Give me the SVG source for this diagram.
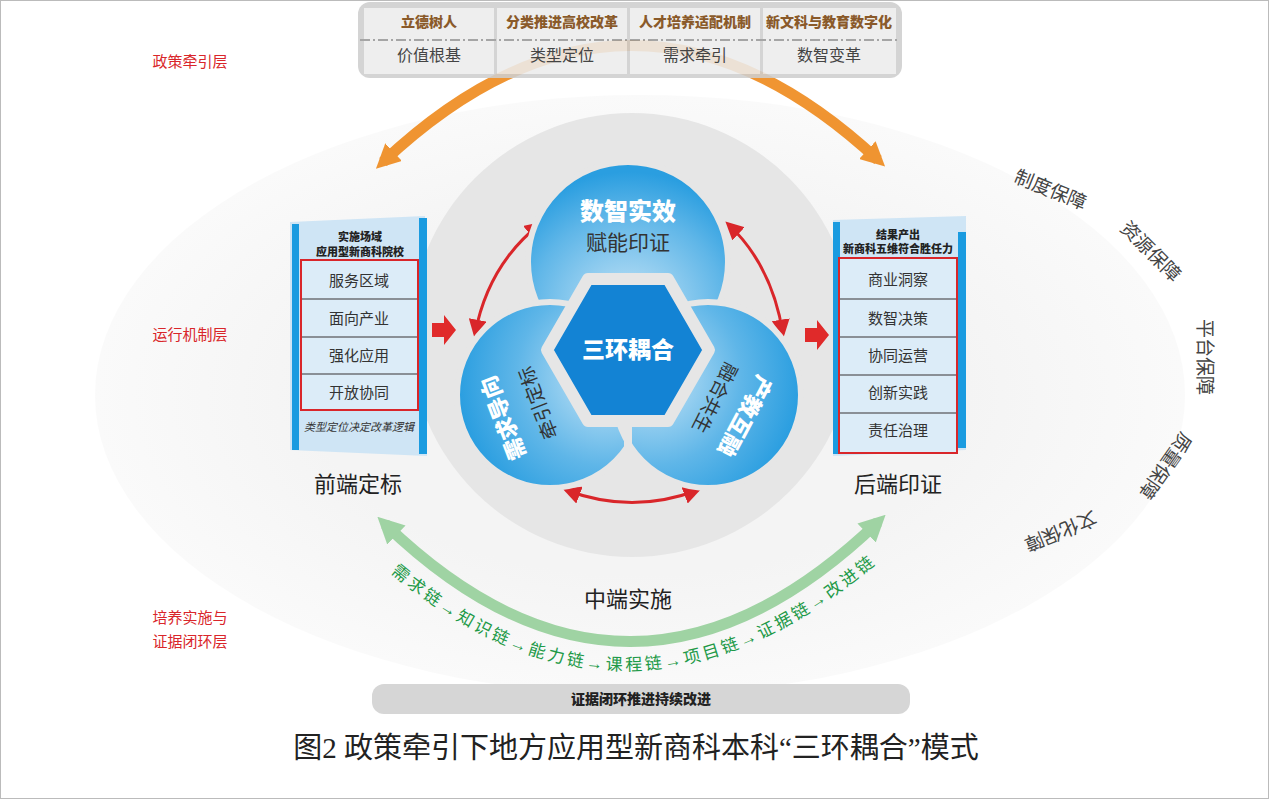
<svg xmlns="http://www.w3.org/2000/svg" width="1269" height="799" viewBox="0 0 1269 799">
<defs>
<style>
.s{font-family:"Liberation Serif","Noto Sans CJK SC",serif}
.b{font-family:"Noto Sans CJK SC",sans-serif;font-weight:900}
.lay{font-family:"Liberation Serif","Noto Sans CJK SC",serif;font-size:15px;fill:#d9262a;text-anchor:middle}
.hd{font-size:14px;fill:#8a5a2a;text-anchor:middle}
.cell{font-size:16px;fill:#444;text-anchor:middle}
.row{font-size:15px;fill:#333;text-anchor:middle}
.guar{font-size:19px;fill:#444;text-anchor:middle}
</style>
<radialGradient id="bg" cx="0.5" cy="0.5" r="0.5"><stop offset="0.6" stop-color="#f4f4f4"/><stop offset="1" stop-color="#fafafa"/></radialGradient>
<radialGradient id="blob" cx="0.5" cy="0.75" r="0.7"><stop offset="0" stop-color="#c9e6f7"/><stop offset="0.7" stop-color="#5fb6e8"/><stop offset="1" stop-color="#2a9ee0"/></radialGradient>
<radialGradient id="blobL" cx="0.8" cy="0.4" r="0.8"><stop offset="0" stop-color="#c9e6f7"/><stop offset="0.6" stop-color="#5fb6e8"/><stop offset="1" stop-color="#2a9ee0"/></radialGradient>
<radialGradient id="blobR" cx="0.2" cy="0.4" r="0.8"><stop offset="0" stop-color="#c9e6f7"/><stop offset="0.6" stop-color="#5fb6e8"/><stop offset="1" stop-color="#2a9ee0"/></radialGradient>
<linearGradient id="red" x1="0" x2="1"><stop offset="0" stop-color="#d94a4a" stop-opacity="0.1"/><stop offset="1" stop-color="#d94a4a"/></linearGradient>
<marker id="ra" viewBox="0 0 10 10" refX="8" refY="5" markerWidth="6" markerHeight="6" orient="auto-start-reverse"><path d="M0,0L10,5L0,10z" fill="#d9262a"/></marker>
<marker id="oa" viewBox="0 0 10 10" refX="6" refY="5" markerWidth="2.2" markerHeight="2.2" orient="auto-start-reverse"><path d="M0,0L10,5L0,10z" fill="#ef8a1c"/></marker>
<marker id="ga" viewBox="0 0 10 10" refX="6" refY="5" markerWidth="2.4" markerHeight="2.4" orient="auto-start-reverse"><path d="M0,0L10,5L0,10z" fill="#9fd3a3"/></marker>
<path id="chain" d="M372,556 Q628,790 896,546"/>
</defs>
<rect x="0.5" y="0.5" width="1268" height="798" fill="#fff" stroke="#bbb"/>
<ellipse cx="640" cy="395" rx="545" ry="300" fill="url(#bg)"/>
<circle cx="632" cy="335" r="222" fill="#e6e6e6"/>

<g id="layers">
<line x1="0" y1="126" x2="972" y2="126" stroke="url(#red)" stroke-width="3" stroke-dasharray="18,5,3,5"/>
<line x1="0" y1="545" x2="975" y2="545" stroke="url(#red)" stroke-width="3" stroke-dasharray="18,5,3,5"/>
<text class="lay" x="190" y="67">政策牵引层</text>
<text class="lay" x="190" y="340">运行机制层</text>
<text class="lay" x="190" y="623">培养实施与</text>
<text class="lay" x="190" y="647">证据闭环层</text>
</g>

<g id="connectors" fill="none">
<path d="M383,162 Q630,-70 878,160" stroke="#ef8a1c" stroke-width="11" marker-start="url(#oa)" marker-end="url(#oa)" opacity="0.9"/>
<path d="M385,524 Q630,760 878,522" stroke="#9fd3a3" stroke-width="11" marker-start="url(#ga)" marker-end="url(#ga)"/>
<path d="M540,224 Q488,265 475,334" stroke="#d9262a" stroke-width="3" marker-start="url(#ra)" marker-end="url(#ra)"/>
<path d="M728,224 Q772,265 783,334" stroke="#d9262a" stroke-width="3" marker-start="url(#ra)" marker-end="url(#ra)"/>
<path d="M566,490 Q632,515 698,490" stroke="#d9262a" stroke-width="3" marker-start="url(#ra)" marker-end="url(#ra)"/>
<path d="M432,323h12v-8l12,15l-12,15v-8h-12z" fill="#e02a2a"/>
<path d="M805,328h12v-8l12,15l-12,15v-8h-12z" fill="#e02a2a"/>
</g>

<g id="policy" opacity="0.88">
<rect x="358" y="2" width="544" height="76" rx="12" fill="#cfcfcf"/>
<rect x="364" y="8" width="130" height="66" fill="#ececec"/>
<rect x="497" y="8" width="130" height="66" fill="#ececec"/>
<rect x="630" y="8" width="130" height="66" fill="#ececec"/>
<rect x="763" y="8" width="133" height="66" fill="#ececec"/>
<line x1="360" y1="40" x2="900" y2="40" stroke="#999" stroke-width="2" stroke-dasharray="10,3,2,3"/>
</g>
<g id="policyText">
<text class="b hd" x="429" y="27">立德树人</text>
<text class="b hd" x="562" y="27">分类推进高校改革</text>
<text class="b hd" x="695" y="27">人才培养适配机制</text>
<text class="b hd" x="829" y="27">新文科与教育数字化</text>
<text class="s cell" x="429" y="61">价值根基</text>
<text class="s cell" x="562" y="61">类型定位</text>
<text class="s cell" x="695" y="61">需求牵引</text>
<text class="s cell" x="829" y="61">数智变革</text>
</g>

<g id="rings">
<circle cx="628" cy="262" r="100" fill="url(#blob)" stroke="#e6e6e6" stroke-width="6"/>
<circle cx="550" cy="395" r="93" fill="url(#blobL)" stroke="#e6e6e6" stroke-width="6"/>
<circle cx="708" cy="395" r="93" fill="url(#blobR)" stroke="#e6e6e6" stroke-width="6"/>
<line x1="628" y1="420" x2="628" y2="495" stroke="#e6e6e6" stroke-width="8"/>
<polygon points="547,350 588,279 668,279 709,350 668,421 588,421" fill="#1383d4" stroke="#e6e6e6" stroke-width="12" stroke-linejoin="round"/>
<text class="b" x="628" y="220" font-size="24" fill="#fff" text-anchor="middle">数智实效</text>
<text class="s" x="628" y="250" font-size="21" fill="#333" text-anchor="middle">赋能印证</text>
<text class="b" x="628" y="358" font-size="23" fill="#fff" text-anchor="middle">三环耦合</text>
<text class="b" transform="translate(503,418) rotate(-111)" font-size="22" fill="#fff" text-anchor="middle" dy="8">需求导向</text>
<text class="s" transform="translate(538,403) rotate(-111)" font-size="19" fill="#333" text-anchor="middle" dy="7">牵引定标</text>
<text class="b" transform="translate(745,416) rotate(118)" font-size="22" fill="#fff" text-anchor="middle" dy="8">产教互融</text>
<text class="s" transform="translate(715,398) rotate(117)" font-size="19" fill="#333" text-anchor="middle" dy="7">融合共生</text>
</g>

<g id="front">
<polygon points="290,222 425,216 427,456 290,450" fill="#cfe5f5"/>
<rect x="292" y="224" width="7" height="226" fill="#1a9be0"/>
<rect x="419" y="218" width="8" height="236" fill="#1a9be0"/>
<text class="b" x="360" y="241" font-size="11" fill="#222" text-anchor="middle">实施场域</text>
<text class="b" x="360" y="256" font-size="11" fill="#222" text-anchor="middle">应用型新商科院校</text>
<rect x="301" y="260" width="117" height="150" fill="#dcecf8" stroke="#d9262a" stroke-width="2"/>
<g stroke="#8a8f96" stroke-width="2"><line x1="302" y1="299" x2="417" y2="299"/><line x1="302" y1="337" x2="417" y2="337"/><line x1="302" y1="374" x2="417" y2="374"/></g>
<text class="s row" x="359" y="286">服务区域</text>
<text class="s row" x="359" y="324">面向产业</text>
<text class="s row" x="359" y="361">强化应用</text>
<text class="s row" x="359" y="398">开放协同</text>
<text class="s" x="359" y="431" font-size="11" fill="#333" text-anchor="middle" font-style="italic">类型定位决定改革逻辑</text>
<text class="s" x="358" y="492" font-size="22" fill="#222" text-anchor="middle">前端定标</text>
</g>

<g id="back">
<polygon points="833,220 966,216 966,450 833,456" fill="#cfe5f5"/>
<rect x="833" y="222" width="7" height="232" fill="#1a9be0"/>
<rect x="958" y="232" width="8" height="216" fill="#1a9be0"/>
<text class="b" x="898" y="239" font-size="11" fill="#222" text-anchor="middle">结果产出</text>
<text class="b" x="898" y="253" font-size="11" fill="#222" text-anchor="middle">新商科五维符合胜任力</text>
<rect x="839" y="258" width="118" height="195" fill="#dcecf8" stroke="#d9262a" stroke-width="2"/>
<g stroke="#8a8f96" stroke-width="2"><line x1="840" y1="299" x2="956" y2="299"/><line x1="840" y1="337" x2="956" y2="337"/><line x1="840" y1="375" x2="956" y2="375"/><line x1="840" y1="413" x2="956" y2="413"/></g>
<text class="s row" x="898" y="285">商业洞察</text>
<text class="s row" x="898" y="324">数智决策</text>
<text class="s row" x="898" y="361">协同运营</text>
<text class="s row" x="898" y="398">创新实践</text>
<text class="s row" x="898" y="436">责任治理</text>
<text class="s" x="898" y="492" font-size="22" fill="#222" text-anchor="middle">后端印证</text>
</g>

<g id="guarantees">
<text class="s guar" transform="translate(1048,196) rotate(22)">制度保障</text>
<text class="s guar" transform="translate(1146,256) rotate(45)">资源保障</text>
<text class="s guar" transform="translate(1198,357) rotate(90)">平台保障</text>
<text class="s guar" transform="translate(1160,462) rotate(125)">质量保障</text>
<text class="s guar" transform="translate(1058,525) rotate(158)">文化保障</text>
</g>

<g id="middle">
<text class="s" x="628" y="607" font-size="22" fill="#222" text-anchor="middle">中端实施</text>
<text class="s" font-size="17" fill="#1e9a48" letter-spacing="3"><textPath href="#chain" startOffset="50%" text-anchor="middle">需求链→知识链→能力链→课程链→项目链→证据链→改进链</textPath></text>
<rect x="372" y="684" width="538" height="30" rx="12" fill="#d6d6d6"/>
<text class="b" x="641" y="704" font-size="14" fill="#222" text-anchor="middle">证据闭环推进持续改进</text>
</g>
<text class="s" x="636" y="758" font-size="29" fill="#222" text-anchor="middle">图2 政策牵引下地方应用型新商科本科“三环耦合”模式</text>
</svg>
